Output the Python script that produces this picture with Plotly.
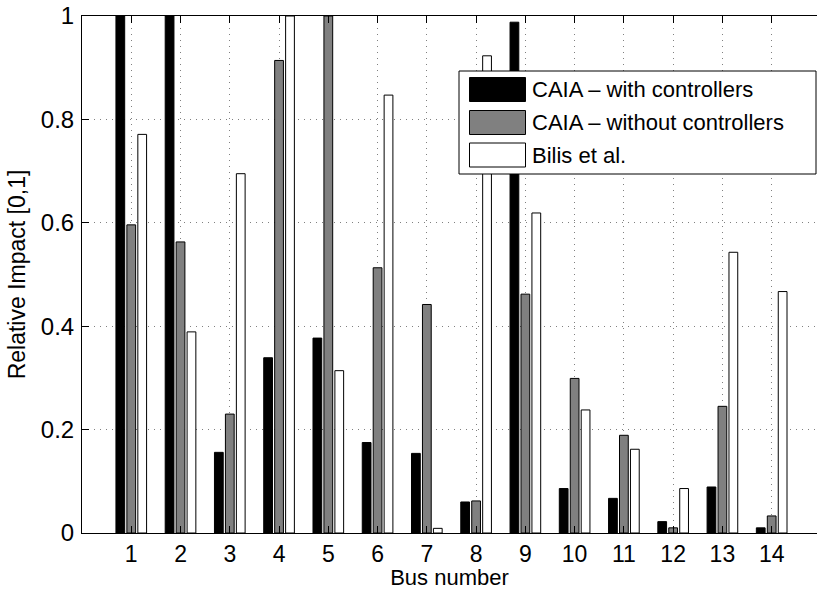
import plotly.graph_objects as go

buses = list(range(1, 15))
with_ctrl = [1.0, 1.0, 0.156, 0.339, 0.377, 0.175, 0.154, 0.060, 0.988, 0.086, 0.067, 0.022, 0.089, 0.010]
without_ctrl = [0.596, 0.563, 0.230, 0.914, 1.0, 0.513, 0.442, 0.062, 0.462, 0.299, 0.189, 0.010, 0.245, 0.033]
bilis = [0.771, 0.389, 0.695, 1.0, 0.314, 0.847, 0.009, 0.923, 0.619, 0.238, 0.162, 0.086, 0.543, 0.467]

series_names = ["CAIA \u2013 with controllers", "CAIA \u2013 without controllers", "Bilis et al."]
series_colors = ["#000000", "#808080", "#ffffff"]
y_ticks = [0, 0.2, 0.4, 0.6, 0.8, 1.0]
y_ticktext = ["0", "0.2", "0.4", "0.6", "0.8", "1"]

FONT = "Liberation Sans, Arial, Helvetica, sans-serif"

fig = go.Figure()
for name, vals, col in zip(series_names, [with_ctrl, without_ctrl, bilis], series_colors):
    fig.add_trace(go.Bar(
        x=buses, y=vals, name=name,
        marker=dict(color=col, line=dict(color="#000000", width=1)),
        showlegend=False,
    ))

W, H = 817, 590
ml, mr, mt, mb = 82, 0, 16, 57
pw, ph = W - ml - mr, H - mt - mb


def px(x):
    return (x - ml) / pw


def py(y):
    return (H - mb - y) / ph


shapes = [dict(type="rect", xref="paper", yref="paper",
               x0=px(459), x1=px(816), y0=py(174), y1=py(71),
               line=dict(color="#000000", width=1), fillcolor="#ffffff", layer="above")]
annotations = []
row_tops = [77.5, 110.5, 143]
for i, (name, col) in enumerate(zip(series_names, series_colors)):
    t = row_tops[i]
    shapes.append(dict(type="rect", xref="paper", yref="paper",
                       x0=px(469.5), x1=px(525.5), y0=py(t + 24), y1=py(t),
                       line=dict(color="#000000", width=1), fillcolor=col, layer="above"))
    annotations.append(dict(xref="paper", yref="paper", x=px(530), y=py(t + 12),
                            text=name, showarrow=False, xanchor="left", yanchor="middle",
                            font=dict(family=FONT, size=22, color="#000000")))

fig.update_layout(
    width=W, height=H,
    margin=dict(l=ml, r=mr, t=mt, b=mb, pad=0),
    paper_bgcolor="#ffffff", plot_bgcolor="#ffffff",
    barmode="group", bargap=1 / 3, bargroupgap=0.2,
    font=dict(family=FONT, size=22, color="#000000"),
    shapes=shapes, annotations=annotations,
    xaxis=dict(
        range=[0, 14.92], tickmode="array", tickvals=buses,
        ticktext=[str(b) for b in buses],
        ticks="inside", ticklen=7, tickcolor="#000000", tickwidth=1,
        showline=True, linecolor="#000000", linewidth=1, mirror="ticks",
        showgrid=True, gridcolor="#808080", griddash="1px,5px", gridwidth=1,
        zeroline=False, ticklabelstandoff=0, tickfont=dict(size=23),
        title=dict(text="Bus number", standoff=3, font=dict(size=22)),
        automargin=False,
    ),
    yaxis=dict(
        range=[0, 1], tickmode="array", tickvals=y_ticks, ticktext=y_ticktext,
        ticks="inside", ticklen=7, tickcolor="#000000", tickwidth=1,
        showline=True, linecolor="#000000", linewidth=1, mirror=False,
        showgrid=True, gridcolor="#808080", griddash="1px,5px", gridwidth=1,
        zeroline=False, ticklabelstandoff=2, tickfont=dict(size=24),
        title=dict(text="Relative Impact [0,1]", standoff=8, font=dict(size=23)),
        automargin=False,
    ),
)

fig.write_html("out.html", config={"displayModeBar": False},
               post_script="document.body.style.margin='0px';document.body.style.overflow='hidden';")
